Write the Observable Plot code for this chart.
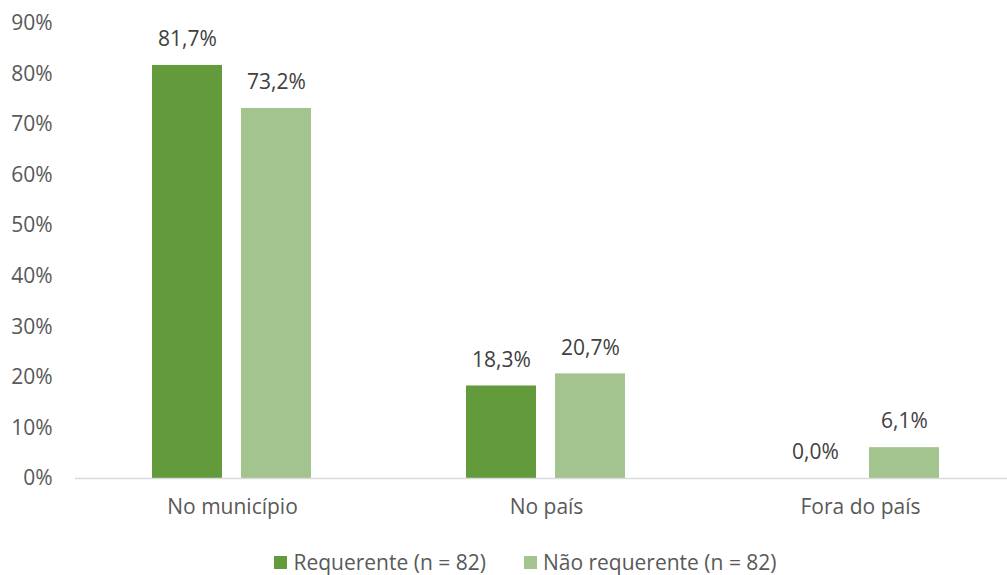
<!DOCTYPE html>
<html>
<head>
<meta charset="utf-8">
<script src="https://cdn.jsdelivr.net/npm/d3@7"></script>
<script src="https://cdn.jsdelivr.net/npm/@observablehq/plot@0.6"></script>
<style>
  body { margin: 0; background: #fff; font-family: "Open Sans", "Liberation Sans", sans-serif; overflow: hidden; }
  #legend { display: flex; justify-content: center; align-items: center; height: 54px; font-size: 21px; color: #595959; gap: 38px; padding-left: 44px; }
  .item { display: flex; align-items: center; }
  .sw { width: 13px; height: 13px; margin-right: 6px; display: inline-block; }
</style>
</head>
<body>
<div id="chart"></div>
<div id="legend"></div>
<script>
const categories = ["No município", "No país", "Fora do país"];
const seriesNames = ["Requerente (n = 82)", "Não requerente (n = 82)"];
const requerente = [81.7, 18.3, 0.0];
const naoRequerente = [73.2, 20.7, 6.1];
const colors = ["#629A3C", "#A3C48F"];
const yTicks = [0, 10, 20, 30, 40, 50, 60, 70, 80, 90];

const data = [];
categories.forEach((c, i) => {
  data.push({category: c, series: seriesNames[0], value: requerente[i]});
  data.push({category: c, series: seriesNames[1], value: naoRequerente[i]});
});
const fmt = v => v.toFixed(1).replace(".", ",") + "%";

const chart = Plot.plot({
  width: 1007,
  height: 535,
  marginLeft: 75,
  marginRight: -10,
  marginTop: 23,
  marginBottom: 57,
  style: {fontFamily: "'Open Sans', 'Liberation Sans', sans-serif", fontSize: "21px", color: "#595959", overflow: "visible"},
  fx: {domain: categories, padding: 0, label: null, axis: "bottom", tickSize: 0, tickPadding: 21},
  x: {domain: seriesNames, paddingInner: 0.211, paddingOuter: 0.85, axis: null},
  y: {domain: [0, 90], ticks: yTicks, tickFormat: d => d + "%", label: null, tickSize: 0, tickPadding: 23},
  color: {domain: seriesNames, range: colors},
  marks: [
    Plot.barY(data, {fx: "category", x: "series", y: "value", fill: "series"}),
    Plot.text(data, {fx: "category", x: "series", y: "value", text: d => fmt(d.value), dy: -26, fill: "#404040", fontSize: 21}),
    Plot.ruleY([0], {stroke: "#D9D9D9", strokeWidth: 1.5})
  ]
});
document.getElementById("chart").appendChild(chart);

const legend = document.getElementById("legend");
seriesNames.forEach((s, i) => {
  const it = document.createElement("div");
  it.className = "item";
  const sw = document.createElement("span");
  sw.className = "sw";
  sw.style.background = colors[i];
  it.appendChild(sw);
  it.appendChild(document.createTextNode(s));
  legend.appendChild(it);
});
</script>
</body>
</html>
